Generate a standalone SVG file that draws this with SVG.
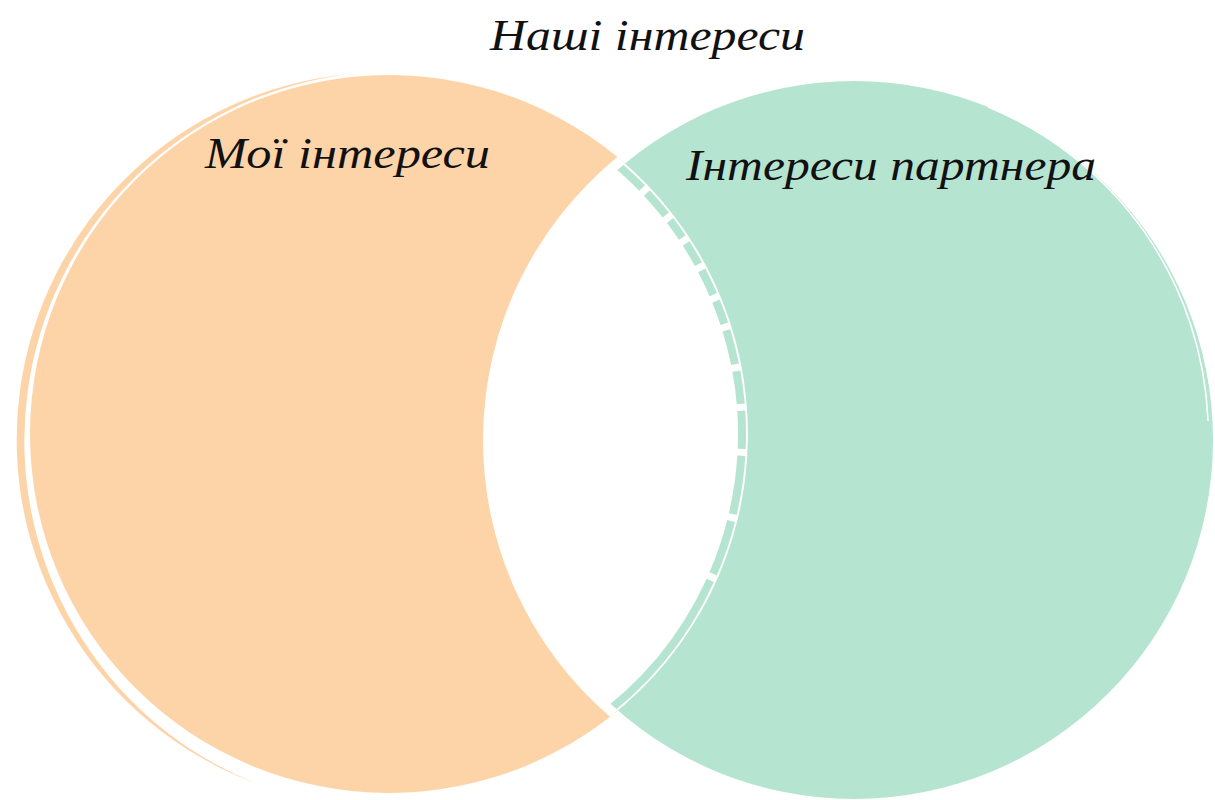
<svg xmlns="http://www.w3.org/2000/svg" width="1215" height="800" viewBox="0 0 1215 800">
  <style>
    .orange { fill: #FDD4A8; }
    .green { fill: #B5E4D1; }
    .label { font-family: "Liberation Serif", "DejaVu Serif", serif; font-style: italic; font-size: 44px; fill: #111; }
  </style>
  <defs>
    <clipPath id="greenClip">
      <circle cx="854" cy="440" r="359"/>
    </clipPath>
  </defs>
  <rect width="1215" height="800" fill="#ffffff"/>

  <g id="set-mine">
    <circle class="orange" cx="389" cy="434" r="359"/>
    <path class="orange" d="M 350 74 A 366.9 366.9 0 0 0 255 783 A 369.3 369.3 0 0 1 350 74 Z"/>
  </g>

  <g id="set-partner">
    <circle class="green" cx="854" cy="440" r="359"/>
    <path d="M 988 107 A 354 354 0 0 1 1208 421" fill="none" stroke="#ffffff" stroke-width="1.6"/>
  </g>

  <g id="overlap">
    <path fill="#ffffff" d="M 617.4 157.1 A 359 359 0 0 1 610.1 716.8 A 365 365 0 0 1 617.4 157.1 Z"/>
    <path clip-path="url(#greenClip)" d="M 591.5 723.2 A 353 353 0 0 0 601.4 152.1" fill="none" stroke="#B5E4D1" stroke-width="8" stroke-dasharray="188 7 56 7 59 7 38 7 33 7 35 7 24 7 27 7 24 7 21 7 29 7 100"/>
  </g>

  <g id="title">
    <text class="label" x="490" y="50" textLength="315" lengthAdjust="spacingAndGlyphs">Наші інтереси</text>
  </g>
  <g id="label-mine">
    <text class="label" x="205" y="168" textLength="285" lengthAdjust="spacingAndGlyphs">Мої інтереси</text>
  </g>
  <g id="label-partner">
    <text class="label" x="686" y="180" textLength="410" lengthAdjust="spacingAndGlyphs">Інтереси партнера</text>
  </g>
</svg>
